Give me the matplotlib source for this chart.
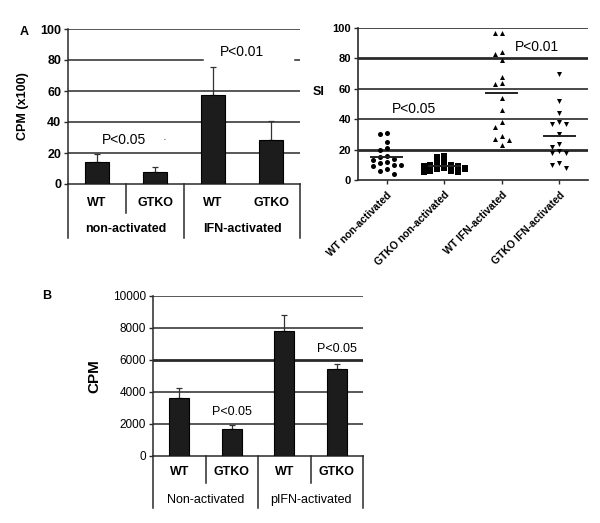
import numpy as np
import matplotlib
matplotlib.use('Agg')
import matplotlib.pyplot as plt

plt.rcParams['font.family'] = ['Liberation Sans', 'DejaVu Sans']

# ---- panel A, left: bar chart
groupsA = ['WT', 'GTKO', 'WT', 'GTKO']
conditionsA = ['non-activated', 'IFN-activated']
cpm100 = [14, 8, 57.5, 28.5]
cpm100_err = [5.5, 3.2, 18, 12]

# ---- panel A, right: SI per animal
si_labels = ['WT non-activated', 'GTKO non-activated', 'WT IFN-activated', 'GTKO IFN-activated']
si_wt_non = [31, 30, 25, 21, 20, 16, 15, 14, 13, 12, 11, 10, 10, 9, 7, 6, 4]
si_gtko_non = [16, 15, 12, 11, 10, 10, 9, 9, 8, 8, 7, 7, 6, 6, 5, 5]
si_wt_ifn = [97, 97, 84, 83, 79, 68, 64, 63, 54, 46, 38, 35, 29, 27, 26, 23]
si_gtko_ifn = [70, 52, 44, 38, 37, 37, 30, 24, 22, 19, 18, 18, 11, 10, 8]

# ---- panel B: bar chart
groupsB = ['WT', 'GTKO', 'WT', 'GTKO']
conditionsB = ['Non-activated', 'pIFN-activated']
cpm = [3600, 1680, 7820, 5450]
cpm_err = [630, 270, 990, 300]

BAR = '#1c1c1c'
LINE = '#2a2a2a'


def swarm(vals, ystep, dx):
    # simple beeswarm: place each point at the first free horizontal slot
    placed = []
    offs = []
    for v in vals:
        for k in [0, -1, 1, -2, 2, -3, 3]:
            x = k * dx
            if all(abs(v - pv) >= ystep or abs(x - px) >= dx * 0.99 for pv, px in placed):
                break
        placed.append((v, x))
        offs.append(x)
    return np.array(offs)


def bar_panel(ax, values, errs, groups, conds, ymax, step, fs_tick, tick_bold,
              width, short_lines, cond_bold, grp_y, cond_y, short_y, long_y, thick=()):
    x = np.arange(len(values))
    ax.set_xlim(-0.5, len(values) - 0.5)
    ax.set_ylim(0, ymax)
    ticks = np.arange(0, ymax + 1, step)
    for t in ticks[1:]:
        ax.axhline(t, color=LINE, lw=2.0 if t in thick else 1.1, zorder=1)
    ax.bar(x, values, width=width, color=BAR, edgecolor='black', lw=0.8, zorder=3)
    ax.errorbar(x, values, yerr=[np.zeros(len(errs)), errs], fmt='none',
                ecolor='#333333', elinewidth=0.9, capsize=2, capthick=0.9, zorder=2)
    ax.set_yticks(ticks)
    ax.set_yticklabels([str(int(t)) for t in ticks], fontsize=fs_tick,
                       fontweight='bold' if tick_bold else 'normal')
    ax.set_xticks([])
    for s in ['top', 'right']:
        ax.spines[s].set_visible(False)
    for s in ['left', 'bottom']:
        ax.spines[s].set_linewidth(1.1)
        ax.spines[s].set_color(LINE)
    ax.tick_params(axis='y', length=3, width=1, pad=2, color=LINE)
    # category table under the axis
    tr = ax.transAxes
    for xf in [0, 0.5, 1.0]:
        ax.plot([xf, xf], [0, long_y], transform=tr, color=LINE, lw=1.1, clip_on=False)
    for xf in short_lines:
        ax.plot([xf, xf], [0, short_y], transform=tr, color=LINE, lw=1.1, clip_on=False)
    for i, g in enumerate(groups):
        ax.text((i + 0.5) / len(groups), grp_y, g, transform=tr, ha='center', va='center',
                fontsize=9, fontweight='bold')
    for i, c in enumerate(conds):
        ax.text(0.25 + 0.5 * i, cond_y, c, transform=tr, ha='center', va='center',
                fontsize=9, fontweight='bold' if cond_bold else 'normal')


fig = plt.figure(figsize=(6, 5.23), dpi=100)

# ---------------- A left
axA = fig.add_axes([68 / 600, 1 - 184 / 523, 232 / 600, 155 / 523])
bar_panel(axA, cpm100, cpm100_err, groupsA, conditionsA, 100, 20, 9, True,
          0.4, [0.25], True, -0.125, -0.29, -0.19, -0.35)
# gridline at 80 is interrupted behind the P<0.01 label
axA.lines[3].set_visible(False)
axA.axhline(80, xmin=0, xmax=0.58, color=LINE, lw=1.1, zorder=1)
axA.axhline(80, xmin=0.978, xmax=1, color=LINE, lw=1.1, zorder=1)
axA.set_ylabel('CPM (x100)', fontsize=9, fontweight='bold', labelpad=8)
axA.text(0.75, 0.85, 'P<0.01', transform=axA.transAxes, ha='center', va='center', fontsize=10)
axA.text(0.24, 0.285, 'P<0.05', transform=axA.transAxes, ha='center', va='center', fontsize=10)
axA.text(0.418, 0.28, '·', transform=axA.transAxes, ha='center', va='center', fontsize=8)
fig.text(20 / 600, 1 - 32 / 523, 'A', fontsize=9, fontweight='bold', ha='left', va='center')

# ---------------- A right
axS = fig.add_axes([358 / 600, 1 - 180 / 523, 230 / 600, 152 / 523])
axS.set_xlim(-0.5, 3.5)
axS.set_ylim(0, 100)
si_ticks = np.arange(0, 101, 20)
for t in si_ticks[1:]:
    axS.axhline(t, color=LINE, lw=2.0 if t in (20, 80) else 1.2, zorder=1)
si_sets = [si_wt_non, si_gtko_non, si_wt_ifn, si_gtko_ifn]
markers = ['o', 's', '^', 'v']
for i, (vals, m) in enumerate(zip(si_sets, markers)):
    offs = swarm(vals, 3.2, 0.12)
    axS.scatter(i + offs, vals, marker=m, s=13, color='black', lw=0, zorder=3)
    axS.plot([i - 0.27, i + 0.27], [np.mean(vals)] * 2, color='#222222', lw=1.4, zorder=4)
axS.set_yticks(si_ticks)
axS.set_yticklabels([str(t) for t in si_ticks], fontsize=8, fontweight='bold')
axS.set_xticks(range(4))
axS.set_xticklabels(si_labels, rotation=45, ha='right', rotation_mode='anchor',
                    fontsize=7.5, fontweight='bold')
for s in ['top', 'right']:
    axS.spines[s].set_visible(False)
for s in ['left', 'bottom']:
    axS.spines[s].set_linewidth(1.2)
    axS.spines[s].set_color(LINE)
axS.tick_params(axis='both', length=3, width=1, pad=2, color=LINE)
axS.tick_params(axis='x', pad=4)
axS.set_ylabel('SI', fontsize=9, fontweight='bold', rotation=0, va='center')
axS.yaxis.set_label_coords(-0.17, 0.58)
axS.text(0.78, 0.875, 'P<0.01', transform=axS.transAxes, ha='center', va='center', fontsize=10)
axS.text(0.245, 0.47, 'P<0.05', transform=axS.transAxes, ha='center', va='center', fontsize=10)

# ---------------- B
axB = fig.add_axes([153 / 600, 1 - 456 / 523, 210 / 600, 160 / 523])
bar_panel(axB, cpm, cpm_err, groupsB, conditionsB, 10000, 2000, 8.5, False,
          0.38, [0.25, 0.75], False, -0.1, -0.275, -0.17, -0.325, thick=(6000,))
axB.set_ylabel('CPM', fontsize=11, fontweight='bold', labelpad=8)
axB.text(1, 2400, 'P<0.05', ha='center', va='bottom', fontsize=9)
axB.text(3, 6300, 'P<0.05', ha='center', va='bottom', fontsize=9)
fig.text(47 / 600, 1 - 296 / 523, 'B', fontsize=9, fontweight='bold', ha='center', va='center')

fig.savefig('out.png', dpi=100, facecolor='white')
